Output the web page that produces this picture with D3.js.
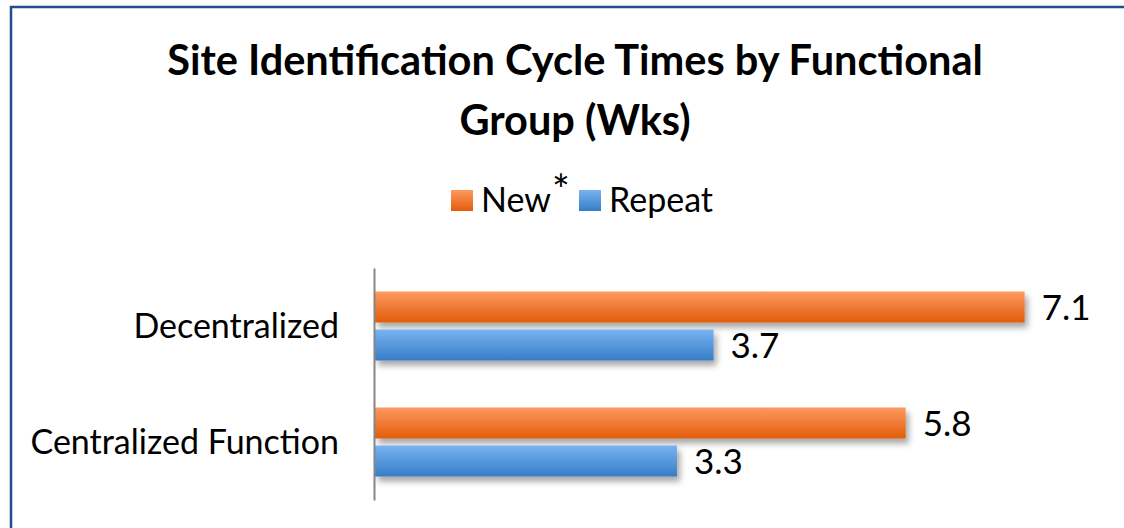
<!DOCTYPE html>
<html>
<head>
<meta charset="utf-8">
<script src="https://cdn.jsdelivr.net/npm/d3@7"></script>
<style>
  body { margin: 0; background: #fff; }
  svg { display: block; font-family: Lato, "Open Sans", sans-serif; }
  .title { font-weight: bold; font-size: 41.5px; fill: #000; }
  .cat { font-size: 34px; fill: #000; }
  .legend text { font-size: 34px; fill: #000; }
  .val { font-size: 35px; fill: #000; }
</style>
</head>
<body>
<svg width="1124" height="528"></svg>
<script>
var categories = ['Decentralized', 'Centralized Function'];
var seriesNames = ['New', 'Repeat'];
var newValues = [7.1, 5.8];
var repeatValues = [3.7, 3.3];
var titleLines = ['Site Identification Cycle Times by Functional', 'Group (Wks)'];

var colors = {
  New: ['#fd9a60', '#e25c0b'],
  Repeat: ['#78b3f2', '#367dc6']
};

var rows = categories.map((c, i) => ({
  cat: c,
  vals: [{ s: 'New', v: newValues[i] }, { s: 'Repeat', v: repeatValues[i] }]
}));

var svg = d3.select('svg');
var defs = svg.append('defs');

Object.keys(colors).forEach(function (k) {
  var g = defs.append('linearGradient')
    .attr('id', 'grad-' + k)
    .attr('x1', 0).attr('y1', 0).attr('x2', 0).attr('y2', 1);
  g.append('stop').attr('offset', '0%').attr('stop-color', colors[k][0]);
  g.append('stop').attr('offset', '100%').attr('stop-color', colors[k][1]);
});

defs.append('filter')
  .attr('id', 'shadow')
  .attr('x', '-10%').attr('y', '-30%').attr('width', '130%').attr('height', '190%')
  .append('feDropShadow')
  .attr('dx', 3).attr('dy', 5).attr('stdDeviation', 3)
  .attr('flood-color', '#000').attr('flood-opacity', 0.35);

// border
svg.append('rect')
  .attr('x', 11).attr('y', 7)
  .attr('width', 1124).attr('height', 540)
  .attr('fill', 'none')
  .attr('stroke', '#1f4e89')
  .attr('stroke-width', 2.5);

// title
svg.append('text')
  .attr('class', 'title')
  .attr('text-anchor', 'middle')
  .selectAll('tspan')
  .data(titleLines)
  .enter()
  .append('tspan')
  .attr('x', 575)
  .attr('y', (d, i) => 75 + i * 60)
  .text(d => d);

// legend
var legend = svg.append('g').attr('class', 'legend');
var legendX = [451, 579];
seriesNames.forEach(function (s, i) {
  legend.append('rect')
    .attr('x', legendX[i]).attr('y', 190)
    .attr('width', 22).attr('height', 21)
    .attr('fill', 'url(#grad-' + s + ')');
  legend.append('text')
    .attr('x', legendX[i] + 30).attr('y', 212)
    .text(s);
});
legend.append('text')
  .attr('x', 552).attr('y', 205)
  .style('font-size', '42px')
  .text('*');

var x = d3.scaleLinear()
  .domain([0, 8])
  .range([375, 375 + 8 * 91.5]);

var y = d3.scaleBand()
  .domain(categories)
  .range([268, 500])
  .paddingInner(0)
  .paddingOuter(0);

var yInner = d3.scaleBand()
  .domain(seriesNames)
  .range([0, 69])
  .paddingInner(7 / 38);

var groupOffset = (y.bandwidth() - 69) / 2;

var groups = svg.selectAll('.group')
  .data(rows)
  .enter()
  .append('g')
  .attr('class', 'group')
  .attr('transform', d => `translate(0, ${y(d.cat) + groupOffset})`);

groups.selectAll('rect')
  .data(d => d.vals)
  .enter()
  .append('rect')
  .attr('x', x(0))
  .attr('y', d => yInner(d.s))
  .attr('width', d => x(d.v) - x(0))
  .attr('height', yInner.bandwidth())
  .attr('fill', d => 'url(#grad-' + d.s + ')')
  .attr('filter', 'url(#shadow)');

groups.selectAll('.val')
  .data(d => d.vals)
  .enter()
  .append('text')
  .attr('class', 'val')
  .attr('x', d => x(d.v) + 17)
  .attr('y', d => yInner(d.s) + yInner.bandwidth() / 2)
  .attr('dy', '0.36em')
  .text(d => d3.format('.1f')(d.v));

// category axis
var axis = svg.append('g')
  .attr('transform', `translate(${x(0) - 1}, 0)`)
  .call(d3.axisLeft(y).tickSize(0).tickPadding(35))
  .attr('font-family', null)
  .attr('font-size', null);

axis.select('.domain')
  .attr('stroke', '#868686')
  .attr('stroke-width', 2);

axis.selectAll('.tick text')
  .attr('class', 'cat')
  .attr('fill', '#000')
  .attr('dy', '0.36em');
</script>
</body>
</html>
